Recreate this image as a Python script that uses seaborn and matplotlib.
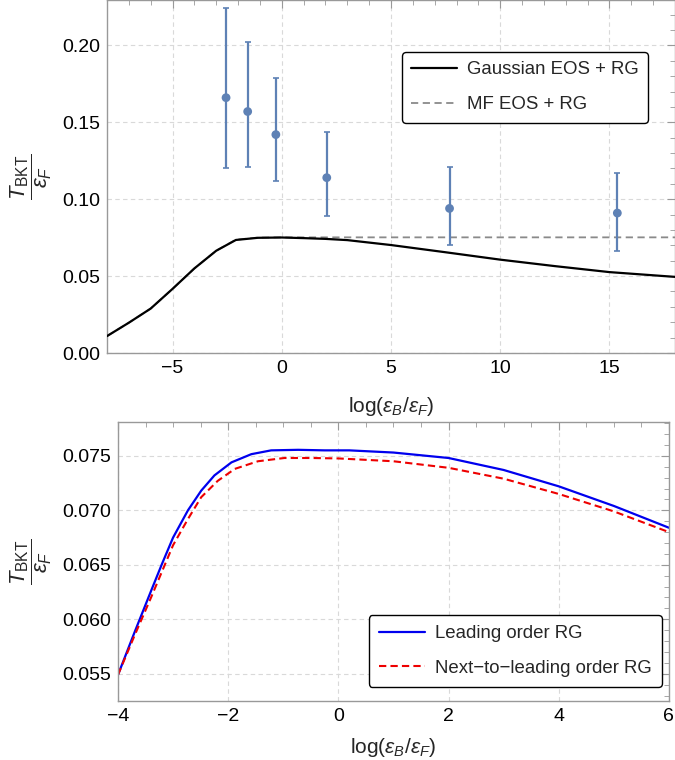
import numpy as np
import pandas as pd
import matplotlib
matplotlib.use("Agg")
import matplotlib.pyplot as plt
from matplotlib.ticker import MultipleLocator
import seaborn as sns

# --- top panel: experiment + theory
exp_x = [-2.55, -1.56, -0.27, 2.06, 7.68, 15.36]
exp_y = [0.166, 0.157, 0.142, 0.114, 0.094, 0.091]
exp_hi = [0.224, 0.202, 0.179, 0.1435, 0.121, 0.1173]
exp_lo = [0.120, 0.121, 0.112, 0.089, 0.070, 0.0662]

gauss_x = [-8, -7, -6, -5, -4, -3, -2.1, -1.1, 0, 1, 2, 3, 5, 7.5, 10, 12.5, 15, 18]
gauss_y = [0.0110, 0.0197, 0.0289, 0.0417, 0.0550, 0.0665, 0.0735, 0.0749, 0.0751,
           0.0747, 0.0742, 0.0734, 0.0702, 0.0655, 0.0607, 0.0565, 0.0526, 0.0495]

mf_x = [-8, -7, -6, -5, -4, -3, -2.1, -1.1, 0, 5, 10, 18]
mf_y = [0.0110, 0.0197, 0.0289, 0.0417, 0.0550, 0.0665, 0.0737, 0.0750, 0.0752,
        0.0752, 0.0752, 0.0752]

# --- bottom panel: LO vs NLO RG
lo_x = [-4, -3.7, -3.4, -3.2, -3.0, -2.73, -2.49, -2.25, -1.94, -1.58, -1.22, -0.73,
        -0.25, 0.2, 1, 2, 3, 4, 5, 6]
lo_y = [0.0549, 0.0588, 0.0626, 0.0651, 0.0675, 0.0700, 0.0718, 0.0732, 0.0744,
        0.07515, 0.0755, 0.07555, 0.0755, 0.0755, 0.0753, 0.0748, 0.0737, 0.0722,
        0.0704, 0.0684]
nlo_x = [-4, -3.7, -3.4, -3.0, -2.73, -2.49, -2.19, -1.88, -1.46, -0.98, -0.5, 0,
         1, 2, 3, 4, 5, 6]
nlo_y = [0.0549, 0.0585, 0.0620, 0.0668, 0.0692, 0.0712, 0.0727, 0.0738, 0.0745,
         0.0748, 0.0748, 0.07476, 0.0745, 0.0739, 0.0729, 0.0715, 0.0699, 0.0680]

sns.set_theme(style="white")
plt.rcParams["font.family"] = ["Liberation Sans", "DejaVu Sans"]
plt.rcParams["mathtext.fontset"] = "custom"
plt.rcParams["mathtext.rm"] = "Liberation Sans"
plt.rcParams["mathtext.it"] = "Liberation Sans:italic"
plt.rcParams["mathtext.fallback"] = "stixsans"

FS = 14
LFS = 13.4
ylab = r"$\dfrac{T_{\mathrm{BKT}}}{\epsilon_F}$"
xlab = r"log($\epsilon_B/\epsilon_F$)"
blue_pt = "#5E81B5"

fig = plt.figure(figsize=(6.75, 7.6), dpi=100)
ax1 = fig.add_axes([0.1585, 0.5355, 0.8415, 0.4645])
ax2 = fig.add_axes([0.1748, 0.0776, 0.8162, 0.3671])


def style_axes(ax, xmaj, xmin, ymaj, ymin):
    ax.xaxis.set_major_locator(MultipleLocator(xmaj))
    ax.xaxis.set_minor_locator(MultipleLocator(xmin))
    ax.yaxis.set_major_locator(MultipleLocator(ymaj))
    ax.yaxis.set_minor_locator(MultipleLocator(ymin))
    ax.tick_params(which="both", direction="in", top=True, right=True,
                   color="#999999", labelsize=FS, labelcolor="black", pad=5)
    ax.tick_params(which="major", length=6, width=0.8)
    ax.tick_params(which="minor", length=3.5, width=0.6)
    ax.grid(True, which="major", color="#d9d9d9", linestyle=(0, (4, 3)), linewidth=0.8)
    for s in ax.spines.values():
        s.set_color("#999999")
        s.set_linewidth(1.0)


df_g = pd.DataFrame({"x": gauss_x, "y": gauss_y})
df_mf = pd.DataFrame({"x": mf_x, "y": mf_y})
sns.lineplot(data=df_mf, x="x", y="y", ax=ax1, color="#8a8a8a", lw=1.3,
             linestyle=(0, (4, 2.5)), label="MF EOS + RG", estimator=None, zorder=3)
sns.lineplot(data=df_g, x="x", y="y", ax=ax1, color="black", lw=1.6,
             label="Gaussian EOS + RG", estimator=None, zorder=4)
yerr = [np.array(exp_y) - np.array(exp_lo), np.array(exp_hi) - np.array(exp_y)]
ax1.errorbar(exp_x, exp_y, yerr=yerr, fmt="none", ecolor=blue_pt, elinewidth=1.6,
             capsize=2.5, capthick=1.2, zorder=5)
sns.scatterplot(x=exp_x, y=exp_y, ax=ax1, color=blue_pt, s=40, edgecolor="none",
                zorder=6, legend=False)
ax1.set_xlim(-8, 18)
ax1.set_ylim(0, 0.2295)
style_axes(ax1, 5, 1, 0.05, 0.01)
ax1.yaxis.set_major_formatter(matplotlib.ticker.FormatStrFormatter("%.2f"))
ax1.xaxis.set_major_formatter(matplotlib.ticker.FuncFormatter(
    lambda v, p: f"{v:.0f}".replace("-", "\u2212")))
ax1.set_xlabel(xlab, fontsize=15, labelpad=13)
ax1.set_ylabel(ylab, fontsize=16, labelpad=6)
h, l = ax1.get_legend_handles_labels()
leg1 = ax1.legend(h[::-1], l[::-1], loc="upper right", bbox_to_anchor=(0.9525, 0.853),
                  borderaxespad=0, fontsize=LFS, frameon=True, fancybox=True,
                  edgecolor="black", framealpha=1, handlelength=2.45,
                  handletextpad=0.55, labelspacing=0.98, borderpad=0.5)
leg1.get_frame().set_linewidth(1.0)

df_lo = pd.DataFrame({"x": lo_x, "y": lo_y})
df_nlo = pd.DataFrame({"x": nlo_x, "y": nlo_y})
sns.lineplot(data=df_lo, x="x", y="y", ax=ax2, color="#0000ee", lw=1.6,
             label="Leading order RG", estimator=None)
sns.lineplot(data=df_nlo, x="x", y="y", ax=ax2, color="#ee0000", lw=1.5,
             linestyle=(0, (3.5, 2)), label="Next\u2212to\u2212leading order RG",
             estimator=None)
ax2.set_xlim(-4, 6)
ax2.set_ylim(0.0525, 0.0781)
style_axes(ax2, 2, 0.5, 0.005, 0.001)
ax2.yaxis.set_major_formatter(matplotlib.ticker.FormatStrFormatter("%.3f"))
ax2.xaxis.set_major_formatter(matplotlib.ticker.FuncFormatter(
    lambda v, p: f"{v:.0f}".replace("-", "\u2212")))
ax2.set_xlabel(xlab, fontsize=15, labelpad=8)
ax2.set_ylabel(ylab, fontsize=16, labelpad=6)
leg2 = ax2.legend(loc="lower right", bbox_to_anchor=(0.987, 0.05), borderaxespad=0,
                  fontsize=LFS, frameon=True, fancybox=True, edgecolor="black",
                  framealpha=1, handlelength=2.45, handletextpad=0.55,
                  labelspacing=0.95, borderpad=0.55)
leg2.get_frame().set_linewidth(1.0)

fig.savefig("out.png", dpi=100)
